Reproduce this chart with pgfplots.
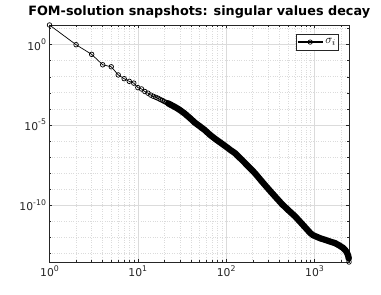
\documentclass[border=0pt]{standalone}
\usepackage{fontspec}
\setmainfont{DejaVu Sans}
\usepackage{pgfplots}
\usepackage{pgfplotstable}
\pgfplotsset{compat=1.18}
\definecolor{axgray}{rgb}{0.15,0.15,0.15}
\definecolor{gridgray}{rgb}{0.86,0.86,0.86}
\newcommand{\tl}[1]{10\raisebox{0.5em}{\fontsize{7.8}{8}\selectfont #1}}

\pgfplotstableread{
i s
1 17
2 1.0
3 0.25
4 0.056
5 0.042
6 0.013
7 7.6e-3
8 5.2e-3
9 4.0e-3
10 2.1e-3
11 1.74e-3
12 1.2e-3
13 9.5e-4
14 7.2e-4
15 6.0e-4
16 5.2e-4
17 4.5e-4
18 3.8e-4
19 3.3e-4
20 2.8e-4
21 2.5e-4
22 2.2e-4
24 1.7e-4
27 1.2e-4
30 8.3e-5
34 5.0e-5
39 2.6e-5
44 1.4e-5
50 8.3e-6
57 4.8e-6
66 2.3e-6
77 1.2e-6
90 6.5e-7
105 3.5e-7
111 2.75e-7
126 1.7e-7
150 6.6e-8
180 2.4e-8
212 9.5e-9
250 3.2e-9
300 1.0e-9
359 3.3e-10
430 1.1e-10
510 4.5e-11
605 1.9e-11
700 7.9e-12
800 3.5e-12
892 1.8e-12
960 1.3e-12
1050 1.05e-12
1160 8.3e-13
1300 6.8e-13
1500 5.2e-13
1715 4.1e-13
1900 3.0e-13
2100 2.1e-13
2222 1.55e-13
2320 1.1e-13
2400 7.1e-14
2440 4.5e-14
2455 2.75e-14
}\sigall

\pgfplotstableread{
i s
22 2.2e-4
24 1.7e-4
27 1.2e-4
30 8.3e-5
34 5.0e-5
39 2.6e-5
44 1.4e-5
50 8.3e-6
57 4.8e-6
66 2.3e-6
77 1.2e-6
90 6.5e-7
105 3.5e-7
111 2.75e-7
126 1.7e-7
150 6.6e-8
180 2.4e-8
212 9.5e-9
250 3.2e-9
300 1.0e-9
359 3.3e-10
430 1.1e-10
510 4.5e-11
605 1.9e-11
700 7.9e-12
800 3.5e-12
892 1.8e-12
960 1.3e-12
1050 1.05e-12
1160 8.3e-13
1300 6.8e-13
1500 5.2e-13
1715 4.1e-13
1900 3.0e-13
2100 2.1e-13
2222 1.55e-13
2320 1.1e-13
2400 7.1e-14
2440 4.5e-14
}\sigdense

\begin{document}
\begin{tikzpicture}
\useasboundingbox (-49.5pt,-33pt) rectangle (331.5pt,262pt);
\begin{axis}[
 at={(0,0)}, anchor=south west,
 scale only axis, width=299.5pt, height=237pt,
 xmode=log, ymode=log,
 xmin=1, xmax=2455, ymin=2.75e-14, ymax=17,
 xtick={1,10,100,1000}, xticklabels={\tl{0},\tl{1},\tl{2},\tl{3}},
 ytick={1,1e-5,1e-10},
 yticklabels={\tl{0},\tl{-5},\tl{-10}},
 minor ytick={1e1,1e-1,1e-2,1e-3,1e-4,1e-6,1e-7,1e-8,1e-9,1e-11,1e-12,1e-13},
 minor xtick={2,3,4,5,6,7,8,9,20,30,40,50,60,70,80,90,200,300,400,500,600,700,800,900,2000},
 grid=both,
 major grid style={gridgray, line width=0.5pt},
 minor grid style={gridgray, dotted, line width=0.6pt},
 axis line style={axgray, line width=0.5pt},
 tick style={axgray, line width=0.5pt},
 tick align=inside,
 major tick length=3pt, minor tick length=1.8pt,
 ticklabel style={font=\fontsize{10.8}{12}\selectfont, text=axgray},
 title={FOM-solution snapshots: singular values decay},
 title style={font=\bfseries\fontsize{12.8}{14}\selectfont, yshift=-3pt},
 legend style={at={(1,1)}, anchor=north east, xshift=-10pt, yshift=-8.5pt, draw=axgray, line width=0.5pt, fill=white, inner xsep=1pt, inner ysep=3pt},
 legend cell align=left,
 legend image code/.code={
   \draw[black,line width=1.4pt] (0pt,0pt) -- (25pt,0pt);
   \draw[black,line width=0.7pt] (12.5pt,0pt) circle (2.2pt);
 },
 clip=false,
]
\addplot[black, line width=6.3pt, line cap=round, line join=round, forget plot] table[x=i,y=s] {\sigdense};
\addplot[black, line width=0.7pt, mark=o, mark size=2.3pt, mark options={line width=0.7pt}] table[x=i,y=s] {\sigall};
\addlegendentry{\fontsize{12.5}{14}\selectfont$\sigma_i$}
\end{axis}
\end{tikzpicture}
\end{document}
